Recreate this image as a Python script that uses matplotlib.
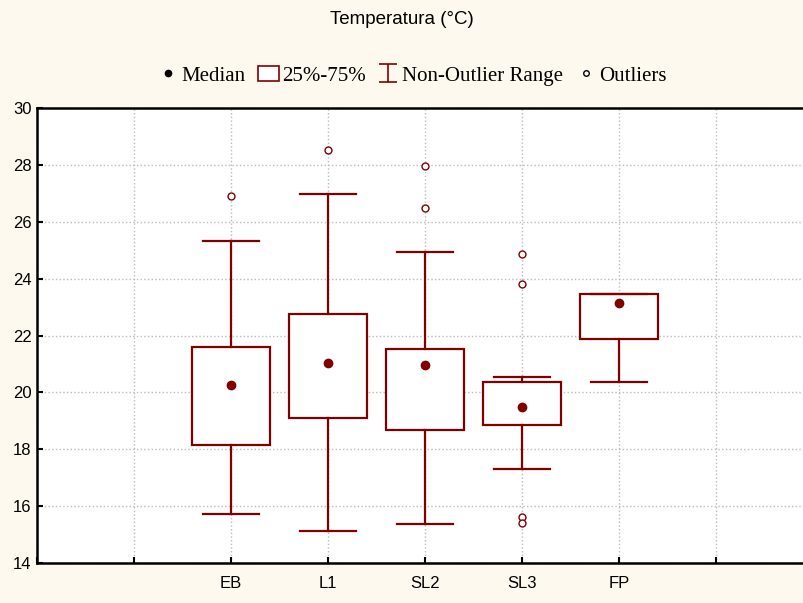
import matplotlib
matplotlib.use("Agg")
import matplotlib.pyplot as plt
from matplotlib.lines import Line2D
from matplotlib.patches import Patch
from matplotlib.path import Path

# Box plot values (deg C)
sites = ["EB", "L1", "SL2", "SL3", "FP"]
medians = [20.25, 21.02, 20.95, 19.47, 23.13]
q1 = [18.16, 19.10, 18.69, 18.86, 21.89]
q3 = [21.60, 22.77, 21.54, 20.36, 23.46]
whisker_lo = [15.72, 15.12, 15.38, 17.30, 20.35]
whisker_hi = [25.32, 26.97, 24.94, 20.55, 23.46]
outliers = [[26.92], [28.52], [27.97, 26.49], [24.88, 23.82, 15.63, 15.40], []]

positions = [2, 3, 4, 5, 6]
tick_pos = list(range(0, 9))
tick_labels = ["", ""] + sites + ["", ""]

RED = "#800000"
BG = "#fdf9ee"

fig = plt.figure(figsize=(8.04, 6.03), dpi=100, facecolor=BG)
ax = fig.add_axes([37 / 804, 40 / 603, 776 / 804, 455 / 603])
ax.set_facecolor("white")

stats = []
for i in range(len(sites)):
    stats.append({
        "med": medians[i], "q1": q1[i], "q3": q3[i],
        "whislo": whisker_lo[i], "whishi": whisker_hi[i],
        "fliers": outliers[i], "label": sites[i],
    })

line_kw = dict(color=RED, linewidth=1.6)
ax.bxp(stats, positions=positions, widths=0.8, patch_artist=True,
       boxprops=dict(facecolor="white", edgecolor=RED, linewidth=1.6),
       whiskerprops=line_kw, capprops=line_kw,
       medianprops=dict(linewidth=0),
       flierprops=dict(marker="o", markerfacecolor="white",
                       markeredgecolor=RED, markersize=5, markeredgewidth=1),
       capwidths=0.57, zorder=3)
ax.plot(positions, medians, "o", color=RED, markersize=6, zorder=4)

ax.set_xlim(0, 8)
ax.set_ylim(14, 30)
ax.set_xticks(tick_pos)
ax.set_xticklabels(tick_labels, fontfamily="Liberation Sans", fontsize=12)
ax.set_yticks(range(14, 31, 2))
for lab in ax.get_yticklabels():
    lab.set_fontfamily("Liberation Sans")
    lab.set_fontsize(12)
ax.tick_params(direction="in", length=4, width=1.5, color="black", pad=4)
ax.tick_params(axis="x", pad=9)
ax.grid(True, linestyle=":", color="#bbbbbb", linewidth=1, zorder=0)
ax.set_axisbelow(True)
for s in ax.spines.values():
    s.set_linewidth(1.8)

fig.text(0.5, 1 - 20 / 603, "Temperatura (°C)", ha="center", va="center",
         fontfamily="Liberation Sans", fontsize=13.5)

# legend symbol for whisker range
range_path = Path([(-1, 1), (1, 1), (0, 1), (0, -1), (-1, -1), (1, -1)],
                  [Path.MOVETO, Path.LINETO, Path.MOVETO, Path.LINETO,
                   Path.MOVETO, Path.LINETO])
handles = [
    Line2D([], [], marker="o", color="black", linestyle="none", markersize=4.5),
    Patch(facecolor="white", edgecolor=RED, linewidth=1.2),
    Line2D([], [], marker=range_path, color=RED, linestyle="none",
           markersize=13, markeredgewidth=1.2),
    Line2D([], [], marker="o", markerfacecolor="white", markeredgecolor="black",
           linestyle="none", markersize=4),
]
labels = ["Median", "25%-75%", "Non-Outlier Range", "Outliers"]
fig.legend(handles, labels, loc="center", bbox_to_anchor=(412 / 804, 1 - 76 / 603),
           ncol=4, frameon=False, handlelength=1.0, handletextpad=0.15,
           columnspacing=0.6, prop={"family": "Liberation Serif", "size": 15})

fig.savefig("out.png", dpi=100, facecolor=BG)
